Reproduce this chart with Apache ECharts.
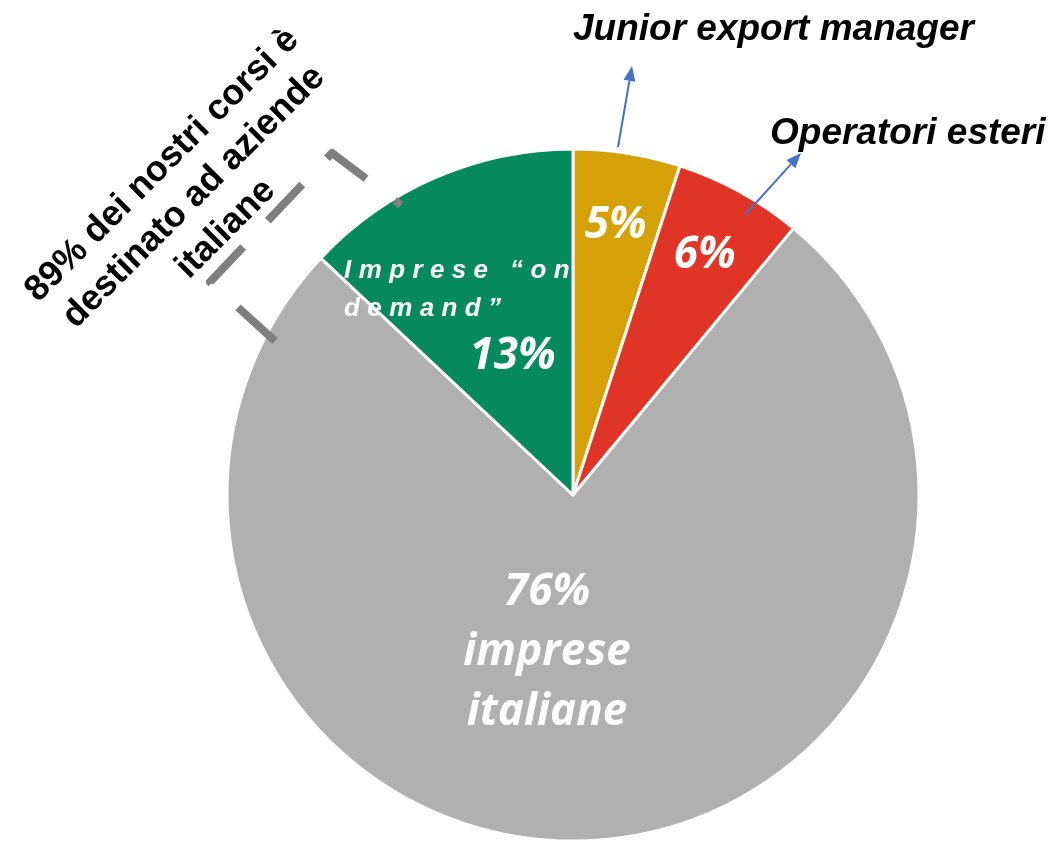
<!DOCTYPE html>
<html>
<head>
<meta charset="utf-8">
<script src="https://cdn.jsdelivr.net/npm/echarts@6/dist/echarts.min.js"></script>
<style>
  html, body { margin: 0; padding: 0; background: #fff; }
  #chart { width: 1051px; height: 841px; }
</style>
</head>
<body>
<div id="chart"></div>
<script>
const categories = ['Junior export manager', 'Operatori esteri', 'Imprese italiane', 'Imprese “on demand”'];
const shares = [5, 6, 76, 13];
const sliceColors = ['#D5A106', '#E03526', '#B0B0B0', '#07895E'];
const callouts = ['Junior export manager', 'Operatori esteri'];
const noteLines = ['89% dei nostri corsi è', 'destinato ad aziende', 'italiane'];

const chart = echarts.init(document.getElementById('chart'));
const cx = 573, cy = 495, R = 346;
// label spot per slice: fraction of radius, and turn (deg) off the slice middle
const labelRadius = [0.79, 0.79, 0.46, 0.61];
const labelTurn = [0, 0, 13, -10];

const total = shares.reduce((a, b) => a + b, 0);
const midAngles = [];
let acc = 0;
shares.forEach(v => { midAngles.push((acc + v / 2) / total * 360); acc += v; });

function spaced(s) {
  return s.split('').join('\u2009\u200A');
}

const labelTexts = [
  '{big|' + shares[0] + '%}',
  '{big|' + shares[1] + '%}',
  '{big|' + shares[2] + '%}\n{big|imprese}\n{big|italiane}',
  '{sp|' + spaced('Imprese “on') + '}\n{sp|' + spaced('demand”') + '}\n{pct|' + shares[3] + '%}'
];

function arrow(x1, y1, x2, y2) {
  const a = Math.atan2(y2 - y1, x2 - x1);
  const len = 15, w = 6;
  const bx = x2 - len * Math.cos(a), by = y2 - len * Math.sin(a);
  const nx = -Math.sin(a) * w, ny = Math.cos(a) * w;
  return [
    { type: 'line', z: 100, shape: { x1: x1, y1: y1, x2: bx, y2: by },
      style: { stroke: '#4472C4', lineWidth: 2 } },
    { type: 'polygon', z: 100, shape: { points: [[x2, y2], [bx + nx, by + ny], [bx - nx, by - ny]] },
      style: { fill: '#4472C4' } }
  ];
}

const options = {
  backgroundColor: '#fff',
  animation: false,
  series: [
    {
      type: 'pie',
      center: [cx, cy],
      radius: [0, R],
      startAngle: 90,
      clockwise: true,
      silent: true,
      itemStyle: { borderColor: '#fff', borderWidth: 3 },
      label: {
        show: true,
        position: 'inside',
        color: '#fff',
        rich: {
          big: { fontFamily: 'Open Sans', fontWeight: 'bold', fontStyle: 'italic', fontSize: 44, lineHeight: 60, color: '#fff' },
          sp: { fontFamily: 'Liberation Sans', fontWeight: 'bold', fontStyle: 'italic', fontSize: 26, lineHeight: 38, color: '#fff', align: 'left' },
          pct: { fontFamily: 'Open Sans', fontWeight: 'bold', fontStyle: 'italic', fontSize: 44, lineHeight: 58, color: '#fff', align: 'right', padding: [0, 14, 0, 0] }
        }
      },
      labelLine: { show: false },
      labelLayout: function (params) {
        const i = params.dataIndex;
        const a = (midAngles[i] + labelTurn[i]) * Math.PI / 180;
        const r = R * labelRadius[i];
        return { x: cx + r * Math.sin(a), y: cy - r * Math.cos(a), align: 'center', verticalAlign: 'middle' };
      },
      data: categories.map((name, i) => ({
        name: name,
        value: shares[i],
        itemStyle: { color: sliceColors[i] },
        label: { formatter: labelTexts[i] }
      }))
    }
  ],
  graphic: [
    // dashed bracket round the left part
    {
      type: 'polyline', z: 50,
      shape: { points: [[275, 341], [210, 282], [332, 153], [401, 205]] },
      style: { stroke: '#7F7F7F', lineWidth: 8, lineDash: [50, 36], lineJoin: 'round', fill: null }
    },
    {
      type: 'text', z: 100,
      x: 194, y: 197,
      rotation: Math.PI / 4,
      style: {
        text: noteLines.join('\n'),
        fontFamily: 'Liberation Sans', fontWeight: 'bold', fontSize: 36, lineHeight: 45,
        fill: '#000', align: 'center', verticalAlign: 'middle'
      }
    },
    {
      type: 'text', z: 100, x: 573, y: 30,
      style: { text: callouts[0], fontFamily: 'Liberation Sans', fontWeight: 'bold', fontStyle: 'italic',
        fontSize: 37, fill: '#000', align: 'left', verticalAlign: 'middle' }
    },
    {
      type: 'text', z: 100, x: 770, y: 134,
      style: { text: callouts[1], fontFamily: 'Liberation Sans', fontWeight: 'bold', fontStyle: 'italic',
        fontSize: 37, fill: '#000', align: 'left', verticalAlign: 'middle' }
    }
  ].concat(arrow(618, 147, 632, 66), arrow(745, 215, 801, 153))
};

chart.setOption(options);
</script>
</body>
</html>
